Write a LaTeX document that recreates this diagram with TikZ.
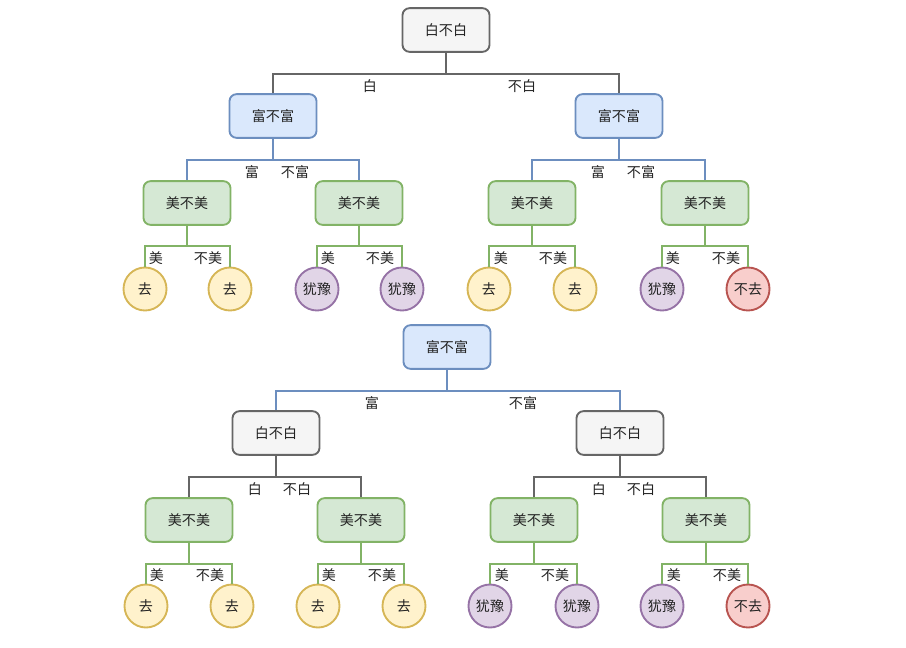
\documentclass[tikz,border=0pt]{standalone}
\usepackage{fontspec}
\newfontfamily\cjkfont{Noto Sans CJK SC}
\usetikzlibrary{calc,positioning}
\definecolor{grayFill}{HTML}{F5F5F5}
\definecolor{grayLine}{HTML}{666666}
\definecolor{blueFill}{HTML}{DAE8FC}
\definecolor{blueLine}{HTML}{6C8EBF}
\definecolor{greenFill}{HTML}{D5E8D4}
\definecolor{greenLine}{HTML}{82B366}
\definecolor{goFill}{HTML}{FFF2CC}
\definecolor{goLine}{HTML}{D6B656}
\definecolor{waitFill}{HTML}{E1D5E7}
\definecolor{waitLine}{HTML}{9673A6}
\definecolor{noFill}{HTML}{F8CECC}
\definecolor{noLine}{HTML}{B85450}
\definecolor{textDark}{HTML}{222222}
% parent -> two children, with a bar under the parent
\newcommand{\splitto}[5]{%
  \draw[#1] (#2.south) -- ++(0,#5) coordinate (#2-bar);
  \draw[#1] (#3.north) |- (#2-bar) -| (#4.north);}

\begin{document}
\begin{tikzpicture}[x=0.03cm,y=-0.03cm,
  font=\cjkfont\fontsize{12}{14}\selectfont,
  askbox/.style={draw,rounded corners=6pt,line width=1.6pt,minimum width=2.61cm,minimum height=1.31cm,text=textDark},
  askWhite/.style={askbox,draw=grayLine,fill=grayFill},
  askRich/.style={askbox,draw=blueLine,fill=blueFill},
  askLooks/.style={askbox,draw=greenLine,fill=greenFill},
  endnode/.style={circle,draw,line width=1.6pt,minimum size=1.29cm,inner sep=0pt,text=textDark},
  endGo/.style={endnode,draw=goLine,fill=goFill},
  endWait/.style={endnode,draw=waitLine,fill=waitFill},
  endNo/.style={endnode,draw=noLine,fill=noFill},
  edgeGray/.style={draw=grayLine,line width=1.6pt},
  edgeBlue/.style={draw=blueLine,line width=1.6pt},
  edgeGreen/.style={draw=greenLine,line width=1.6pt},
  lbl/.style={text=textDark,inner sep=0pt}]
\useasboundingbox (0,0) rectangle (906,647);

% first tree: 白 first
\node[askWhite] (t0) at (446,30) {白不白};
\node[askRich] (t1) at (273,116) {富不富};
\node[askRich] (t2) at (619,116) {富不富};
\node[askLooks] (t11) at (187,203) {美不美};
\node[askLooks] (t12) at (359,203) {美不美};
\node[askLooks] (t21) at (532,203) {美不美};
\node[askLooks] (t22) at (705,203) {美不美};
\foreach \x/\kind/\txt [count=\i] in {145/endGo/去,230/endGo/去,317/endWait/犹豫,402/endWait/犹豫,
    489/endGo/去,575/endGo/去,662/endWait/犹豫,748/endNo/不去}
  \node[\kind] (tl\i) at (\x,289) {\txt};

\splitto{edgeGray}{t0}{t1}{t2}{21}
\splitto{edgeBlue}{t1}{t11}{t12}{21}
\splitto{edgeBlue}{t2}{t21}{t22}{21}
\splitto{edgeGreen}{t11}{tl1}{tl2}{20}
\splitto{edgeGreen}{t12}{tl3}{tl4}{20}
\splitto{edgeGreen}{t21}{tl5}{tl6}{20}
\splitto{edgeGreen}{t22}{tl7}{tl8}{20}

\node[lbl] (t0a) at (370,86) {白};
\node[lbl] (t0b) at (522,86) {不白};
\node[lbl] (t1a) at (252,172) {富};
\node[lbl] (t1b) at (295,172) {不富};
\node[lbl] (t2a) at (598,172) {富};
\node[lbl] (t2b) at (641,172) {不富};
\node[lbl] (t11a) at (156,258) {美};
\node[lbl] (t11b) at (208,258) {不美};
\node[lbl] (t12a) at (328,258) {美};
\node[lbl] (t12b) at (380,258) {不美};
\node[lbl] (t21a) at (501,258) {美};
\node[lbl] (t21b) at (553,258) {不美};
\node[lbl] (t22a) at (673,258) {美};
\node[lbl] (t22b) at (726,258) {不美};

% second tree: 富 first
\node[askRich] (b0) at (447,347) {富不富};
\node[askWhite] (b1) at (276,433) {白不白};
\node[askWhite] (b2) at (620,433) {白不白};
\node[askLooks] (b11) at (189,520) {美不美};
\node[askLooks] (b12) at (361,520) {美不美};
\node[askLooks] (b21) at (534,520) {美不美};
\node[askLooks] (b22) at (706,520) {美不美};
\foreach \x/\kind/\txt [count=\i] in {146/endGo/去,232/endGo/去,318/endGo/去,404/endGo/去,
    490/endWait/犹豫,577/endWait/犹豫,662/endWait/犹豫,748/endNo/不去}
  \node[\kind] (bl\i) at (\x,606) {\txt};

\splitto{edgeBlue}{b0}{b1}{b2}{21}
\splitto{edgeGray}{b1}{b11}{b12}{21}
\splitto{edgeGray}{b2}{b21}{b22}{21}
\splitto{edgeGreen}{b11}{bl1}{bl2}{21}
\splitto{edgeGreen}{b12}{bl3}{bl4}{21}
\splitto{edgeGreen}{b21}{bl5}{bl6}{21}
\splitto{edgeGreen}{b22}{bl7}{bl8}{21}

\node[lbl] (b0a) at (372,403) {富};
\node[lbl] (b0b) at (523,403) {不富};
\node[lbl] (b1a) at (255,489) {白};
\node[lbl] (b1b) at (297,489) {不白};
\node[lbl] (b2a) at (599,489) {白};
\node[lbl] (b2b) at (641,489) {不白};
\node[lbl] (b11a) at (157,575) {美};
\node[lbl] (b11b) at (210,575) {不美};
\node[lbl] (b12a) at (329,575) {美};
\node[lbl] (b12b) at (382,575) {不美};
\node[lbl] (b21a) at (502,575) {美};
\node[lbl] (b21b) at (555,575) {不美};
\node[lbl] (b22a) at (674,575) {美};
\node[lbl] (b22b) at (727,575) {不美};
\end{tikzpicture}
\end{document}
